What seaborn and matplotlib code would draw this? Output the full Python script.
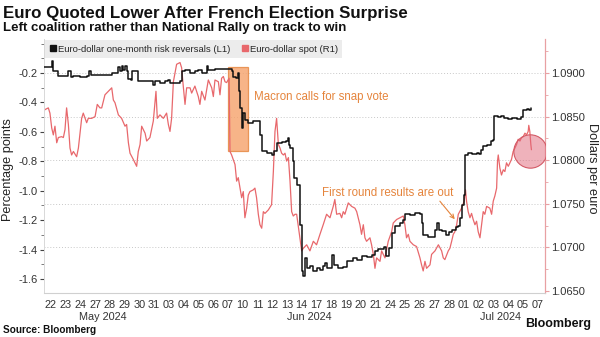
import numpy as np
import pandas as pd
import matplotlib
matplotlib.use("Agg")
import matplotlib.pyplot as plt
import matplotlib.transforms as mtransforms
from matplotlib.patches import Rectangle
from matplotlib.lines import Line2D
from matplotlib.ticker import FixedLocator, MultipleLocator, FuncFormatter
import seaborn as sns

# Trading-day axis labels (one slot per session)
day_labels = ["22", "23", "24", "27", "28", "29", "30", "31", "03", "04", "05",
              "06", "07", "10", "11", "12", "13", "14", "17", "18", "19", "20",
              "21", "24", "25", "26", "27", "28", "01", "02", "03", "04", "05", "07"]
month_labels = ["May 2024", "Jun 2024", "Jul 2024"]
month_start = [0, 8, 28]
month_end = [8, 28, 34]

# Euro-dollar one-month risk reversals (L1), position in sessions
rr_day = [0.00, 0.43, 0.55, 0.66, 1.00, 1.34, 1.68, 1.84, 2.02, 2.47, 2.92, 3.10,
          3.19, 3.71, 4.28, 4.61, 4.95, 5.07, 5.18, 5.29, 5.41, 5.52, 5.63, 5.75,
          5.90, 5.99, 6.31, 6.38, 7.33, 7.40, 7.55, 7.89, 8.23, 8.46, 8.57, 8.91,
          9.25, 9.36, 9.59, 9.93, 10.26, 10.49, 10.72, 11.06, 11.17, 11.62, 12.07,
          12.52, 12.75, 12.86, 13.04, 13.16, 13.25, 13.34, 13.43, 13.52, 13.65,
          13.88, 14.22, 14.56, 14.67, 14.79, 15.12, 15.46, 15.64, 15.80, 16.14,
          16.41, 16.55, 16.64, 16.72, 16.90, 17.00, 17.16, 17.38, 17.50, 17.57,
          17.73, 17.84, 18.06, 18.29, 18.51, 18.74, 18.96, 19.08, 19.24, 19.53,
          19.69, 19.98, 20.32, 20.55, 20.77, 21.00, 21.23, 21.56, 21.90, 22.24,
          22.47, 22.69, 23.08, 23.21, 23.44, 23.60, 23.82, 24.16, 24.39, 24.50,
          24.84, 25.18, 25.52, 25.63, 25.74, 26.08, 26.42, 26.54, 26.65, 26.81,
          27.04, 27.26, 27.49, 27.71, 27.94, 28.12, 28.25, 28.37, 28.48, 28.57,
          28.75, 29.02, 29.36, 29.54, 29.65, 29.81, 30.04, 30.33, 30.47, 30.56,
          30.83, 31.05, 31.23, 31.46, 31.78, 32.07, 32.37, 32.52, 32.75, 32.91, 33.05]
rr_val = [-0.162, -0.162, -0.121, -0.189, -0.223, -0.223, -0.189, -0.229, -0.218,
          -0.227, -0.218, -0.189, -0.216, -0.216, -0.211, -0.202, -0.197, -0.162,
          -0.189, -0.155, -0.178, -0.155, -0.189, -0.239, -0.246, -0.184, -0.184,
          -0.252, -0.252, -0.284, -0.252, -0.268, -0.252, -0.245, -0.268, -0.268,
          -0.257, -0.189, -0.177, -0.200, -0.189, -0.177, -0.200, -0.155, -0.177,
          -0.171, -0.173, -0.171, -0.189, -0.229, -0.234, -0.200, -0.325, -0.438,
          -0.574, -0.472, -0.517, -0.540, -0.528, -0.524, -0.619, -0.733, -0.745,
          -0.760, -0.733, -0.676, -0.669, -0.665, -0.642, -0.687, -0.712, -0.800,
          -0.913, -0.959, -1.231, -1.548, -1.582, -1.458, -1.526, -1.514, -1.548,
          -1.526, -1.537, -1.514, -1.492, -1.526, -1.435, -1.503, -1.526, -1.521,
          -1.480, -1.476, -1.458, -1.469, -1.447, -1.454, -1.435, -1.408, -1.394,
          -1.385, -1.447, -1.390, -1.288, -1.242, -1.219, -1.197, -1.159, -1.163,
          -1.152, -1.159, -1.220, -1.304, -1.318, -1.318, -1.265, -1.220, -1.265,
          -1.276, -1.299, -1.281, -1.265, -1.249, -1.242, -1.186, -1.095, -1.027,
          -0.755, -0.745, -0.751, -0.745, -0.751, -0.721, -0.699, -0.687, -0.665,
          -0.653, -0.495, -0.502, -0.495, -0.506, -0.511, -0.506, -0.511, -0.502,
          -0.449, -0.442, -0.449, -0.438]

# Euro-dollar spot (R1), position in sessions
spot_day = [0.00, 0.09, 0.32, 0.43, 0.55, 0.66, 0.77, 0.89, 1.00, 1.22, 1.34, 1.45,
            1.56, 1.68, 1.79, 1.90, 2.02, 2.24, 2.36, 2.58, 2.69, 2.92, 3.03, 3.26,
            3.49, 3.64, 3.82, 3.94, 4.16, 4.39, 4.62, 4.73, 4.84, 5.07, 5.29, 5.52,
            5.63, 5.75, 5.86, 6.08, 6.31, 6.42, 6.54, 6.65, 6.88, 6.99, 7.21, 7.44,
            7.62, 7.71, 7.89, 8.12, 8.34, 8.46, 8.57, 8.68, 8.80, 9.02, 9.25, 9.36,
            9.47, 9.59, 9.70, 9.93, 10.04, 10.26, 10.49, 10.60, 10.72, 10.94, 11.17,
            11.40, 11.51, 11.62, 11.85, 11.96, 12.07, 12.19, 12.30, 12.41, 12.58,
            12.64, 12.75, 12.98, 13.09, 13.20, 13.32, 13.43, 13.54, 13.65, 13.77,
            13.88, 13.99, 14.22, 14.33, 14.44, 14.56, 14.67, 14.79, 14.90, 15.01,
            15.24, 15.46, 15.58, 15.69, 15.80, 15.92, 16.03, 16.14, 16.26, 16.37,
            16.48, 16.60, 16.71, 16.82, 16.93, 17.05, 17.16, 17.38, 17.50, 17.61,
            17.84, 18.06, 18.29, 18.51, 18.74, 18.96, 19.19, 19.42, 19.64, 19.75,
            19.87, 20.09, 20.21, 20.32, 20.43, 20.66, 20.89, 21.11, 21.23, 21.45,
            21.56, 21.68, 21.79, 21.90, 22.13, 22.24, 22.36, 22.47, 22.58, 22.81,
            22.92, 23.15, 23.37, 23.60, 23.71, 23.94, 24.16, 24.39, 24.50, 24.61,
            24.73, 24.84, 25.07, 25.29, 25.52, 25.63, 25.74, 25.86, 25.97, 26.20,
            26.31, 26.54, 26.77, 26.99, 27.10, 27.21, 27.44, 27.55, 27.67, 27.78,
            27.89, 28.01, 28.12, 28.34, 28.52, 28.61, 28.68, 28.79, 28.91, 29.02,
            29.13, 29.25, 29.36, 29.47, 29.59, 29.70, 29.81, 29.92, 30.04, 30.26,
            30.38, 30.49, 30.60, 30.72, 30.78, 30.83, 30.94, 31.05, 31.17, 31.28,
            31.39, 31.51, 31.62, 31.73, 31.84, 31.96, 32.07, 32.18, 32.30, 32.41,
            32.52, 32.64, 32.75, 32.86, 32.90, 32.97, 33.04, 33.08]
spot_val = [1.0856, 1.0858, 1.0860, 1.0854, 1.0837, 1.0829, 1.0839, 1.0820, 1.0826,
            1.0827, 1.0826, 1.0835, 1.0860, 1.0841, 1.0814, 1.0806, 1.0810, 1.0804,
            1.0814, 1.0848, 1.0854, 1.0843, 1.0848, 1.0848, 1.0850, 1.0864, 1.0860,
            1.0860, 1.0875, 1.0879, 1.0883, 1.0869, 1.0866, 1.0852, 1.0848, 1.0839,
            1.0841, 1.0820, 1.0808, 1.0801, 1.0793, 1.0810, 1.0818, 1.0839, 1.0831,
            1.0822, 1.0826, 1.0845, 1.0879, 1.0848, 1.0852, 1.0848, 1.0854, 1.0841,
            1.0833, 1.0848, 1.0890, 1.0910, 1.0912, 1.0906, 1.0885, 1.0864, 1.0883,
            1.0883, 1.0877, 1.0885, 1.0873, 1.0864, 1.0879, 1.0869, 1.0892, 1.0883,
            1.0873, 1.0892, 1.0890, 1.0875, 1.0894, 1.0896, 1.0890, 1.0889, 1.0894,
            1.0810, 1.0806, 1.0795, 1.0776, 1.0780, 1.0768, 1.0757, 1.0764, 1.0734,
            1.0745, 1.0760, 1.0764, 1.0766, 1.0768, 1.0757, 1.0738, 1.0726, 1.0722,
            1.0741, 1.0739, 1.0743, 1.0749, 1.0787, 1.0833, 1.0848, 1.0818, 1.0814,
            1.0808, 1.0806, 1.0808, 1.0799, 1.0803, 1.0776, 1.0741, 1.0736, 1.0738,
            1.0738, 1.0711, 1.0696, 1.0699, 1.0703, 1.0696, 1.0707, 1.0703, 1.0715,
            1.0726, 1.0738, 1.0734, 1.0747, 1.0755, 1.0738, 1.0739, 1.0734, 1.0741,
            1.0738, 1.0751, 1.0747, 1.0745, 1.0741, 1.0726, 1.0715, 1.0726, 1.0711,
            1.0707, 1.0711, 1.0703, 1.0692, 1.0676, 1.0688, 1.0684, 1.0696, 1.0688,
            1.0707, 1.0718, 1.0728, 1.0732, 1.0734, 1.0736, 1.0726, 1.0711, 1.0715,
            1.0707, 1.0703, 1.0701, 1.0688, 1.0680, 1.0673, 1.0684, 1.0676, 1.0680,
            1.0692, 1.0696, 1.0703, 1.0696, 1.0688, 1.0686, 1.0696, 1.0699, 1.0707,
            1.0715, 1.0718, 1.0726, 1.0738, 1.0745, 1.0753, 1.0766, 1.0753, 1.0741,
            1.0734, 1.0739, 1.0732, 1.0726, 1.0730, 1.0718, 1.0711, 1.0726, 1.0741,
            1.0738, 1.0747, 1.0745, 1.0738, 1.0753, 1.0759, 1.0768, 1.0799, 1.0806,
            1.0791, 1.0783, 1.0789, 1.0787, 1.0797, 1.0793, 1.0797, 1.0801, 1.0810,
            1.0814, 1.0818, 1.0824, 1.0822, 1.0826, 1.0827, 1.0831, 1.0829, 1.0833,
            1.0840, 1.0833, 1.0818, 1.0812]

rr_df = pd.DataFrame({"session": rr_day, "value": rr_val})
spot_df = pd.DataFrame({"session": spot_day, "value": spot_val})

BLACK = "#111111"
RED = "#E8686C"
ORANGE = "#E5843C"
TEXT = "#333333"

sns.set_theme(style="white")
plt.rcParams["font.family"] = ["Liberation Sans", "DejaVu Sans"]
plt.rcParams["axes.unicode_minus"] = False

W, H = 600, 337
X0, X1, Y0, Y1 = 43.6, 545.0, 39.0, 293.0   # plot box in pixels from the top-left
fig = plt.figure(figsize=(W / 100, H / 100), dpi=100)
fig.patch.set_facecolor("white")
ax = fig.add_axes([X0 / W, 1 - Y1 / H, (X1 - X0) / W, (Y1 - Y0) / H])
ax2 = ax.twinx()
ax.set_zorder(ax2.get_zorder() + 1)
ax.patch.set_visible(False)

sns.lineplot(data=spot_df, x="session", y="value", ax=ax2, color=RED,
             linewidth=0.9, legend=False, zorder=3)
sns.lineplot(data=rr_df, x="session", y="value", ax=ax, color=BLACK,
             linewidth=1.1, legend=False, drawstyle="steps-post", zorder=3)

n_sessions = len(day_labels)
ax.set_xlim(0, n_sessions)
ax.set_ylim(-1.6956, 0.0311)
ax2.set_ylim(1.06477, 1.0939)

# Left axis
ax.yaxis.set_major_locator(FixedLocator([-1.6, -1.4, -1.2, -1.0, -0.8, -0.6, -0.4, -0.2]))
ax.yaxis.set_minor_locator(MultipleLocator(0.1))
ax.yaxis.set_major_formatter(FuncFormatter(lambda v, p: f"{v:.1f}"))
ax.tick_params(axis="y", which="major", length=3, width=0.8, color="#444444",
               labelsize=8, labelcolor=TEXT, pad=1.5, left=True)
ax.tick_params(axis="y", which="minor", length=2, width=0.6, color="#666666", left=True)
ax.set_ylabel("")
ax.set_xlabel("")

# Right axis
ax2.yaxis.set_major_locator(MultipleLocator(0.005))
ax2.yaxis.set_minor_locator(MultipleLocator(0.0025))
ax2.yaxis.set_major_formatter(FuncFormatter(lambda v, p: f"{v:.4f}"))
ax2.tick_params(axis="y", which="major", length=3, width=0.8, color="#E8A0A3",
                labelsize=8, labelcolor=TEXT, pad=1.5, right=True)
ax2.tick_params(axis="y", which="minor", length=2, width=0.6, color="#E8A0A3", right=True)
ax2.set_ylabel("")
ax2.set_xlabel("")
ax2.grid(False)
for v in np.arange(1.07, 1.0901, 0.005):
    ax2.axhline(v, color="#C8C8C8", linewidth=0.7, linestyle=(0, (1, 2)), zorder=0)

# X axis: one slot per session; labels placed as figure text under each slot
ax.set_xticks([])
ax.grid(False)
slot_px = (X1 - X0) / n_sessions
for i, lab in enumerate(day_labels):
    fig.text((X0 + (i + 0.5) * slot_px) / W, 1 - 305 / H, lab, ha="center", va="center",
             fontsize=7.8, color=TEXT)
for lab, s, e in zip(month_labels, month_start, month_end):
    fig.text((X0 + (s + e) / 2 * slot_px) / W, 1 - 317 / H, lab, ha="center", va="center",
             fontsize=7.8, color=TEXT)

for a in (ax, ax2):
    a.spines["top"].set_visible(False)
ax.spines["right"].set_visible(False)
ax.spines["left"].set_color("#D8D8D8")
ax.spines["left"].set_linewidth(0.7)
ax.spines["bottom"].set_color("#D0D0D0")
ax.spines["bottom"].set_linewidth(0.8)
ax2.spines["left"].set_visible(False)
ax2.spines["bottom"].set_visible(False)
ax2.spines["right"].set_color("#E8A0A3")
ax2.spines["right"].set_linewidth(0.9)

trans = mtransforms.blended_transform_factory(ax.transData, ax.transAxes)

# Macron snap-vote highlight
rect = Rectangle((12.52, 0.559), 1.36, 0.331, transform=trans,
                 facecolor="#F6A26B", alpha=0.8, edgecolor=ORANGE, linewidth=0.9, zorder=2)
ax2.add_patch(rect)
ax.text(14.3, 0.76, "Macron calls for snap vote", transform=trans, color=ORANGE,
        fontsize=8.3, va="baseline", ha="left")

# First round annotation
ax.annotate("", xy=(28.0, 0.282), xycoords=trans, xytext=(26.75, 0.37), textcoords=trans,
            arrowprops=dict(arrowstyle="->", color=ORANGE, lw=0.8, mutation_scale=7))
ax.text(18.87, 0.38, "First round results are out", transform=trans, color=ORANGE,
        fontsize=8.3, va="baseline", ha="left")

# Highlight of the Sunday reaction
ax2.plot([32.98], [1.08106], marker="o", markersize=24, linestyle="",
         markerfacecolor=(0.88, 0.40, 0.47, 0.5), markeredgecolor="#D35A66",
         markeredgewidth=0.8, zorder=5)

# Legend
handles = [Line2D([], [], marker="s", linestyle="", color=BLACK, markersize=5),
           Line2D([], [], marker="s", linestyle="", color=RED, markersize=5)]
leg = ax.legend(handles, ["Euro-dollar one-month risk reversals (L1)", "Euro-dollar spot (R1)"],
                loc="upper left", bbox_to_anchor=(0.0, 1.0), ncol=2, fontsize=6.8,
                frameon=True, fancybox=False, handlelength=0.7, handletextpad=0.2,
                columnspacing=1.2, borderpad=0.45, borderaxespad=0.15)
leg.get_frame().set_facecolor("#ECECEC")
leg.get_frame().set_edgecolor("none")
leg.get_frame().set_alpha(1)
leg.set_zorder(10)

# Axis titles
fig.text(8 / W, 1 - 170 / H, "Percentage points", rotation=90, ha="center", va="center",
         fontsize=9.2, color="#222222")
fig.text(592 / W, 1 - 168 / H, "Dollars per euro", rotation=270, ha="center", va="center",
         fontsize=9.2, color="#222222")

# Headline, subtitle, source
fig.text(3 / W, 1 - 18 / H, "Euro Quoted Lower After French Election Surprise",
         fontsize=12.2, fontweight="bold", color="#111111", va="baseline", ha="left")
fig.text(3 / W, 1 - 31 / H, "Left coalition rather than National Rally on track to win",
         fontsize=9.5, fontweight="bold", color="#111111", va="baseline", ha="left")
fig.text(3 / W, 1 - 333 / H, "Source: Bloomberg", fontsize=7.2, fontweight="bold",
         color="#111111", va="baseline", ha="left")
fig.text(525 / W, 1 - 327 / H, "Bloomberg", fontsize=9, fontweight="bold",
         color="#111111", va="baseline", ha="left")

fig.savefig("out.png", dpi=100, facecolor="white")
